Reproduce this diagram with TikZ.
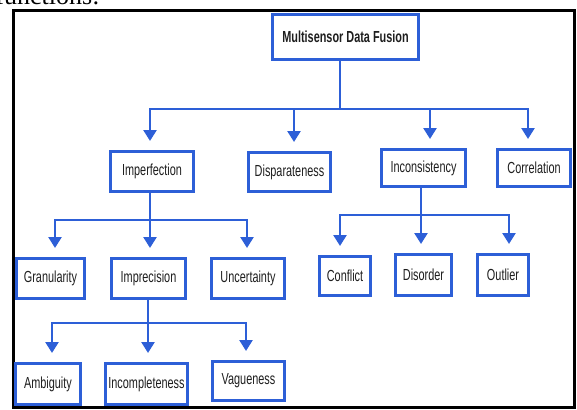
\documentclass[tikz,border=0pt]{standalone}
\usepackage{fontspec}
\setmainfont{Liberation Serif}
\newfontfamily\boxfont[FakeStretch=0.68]{Liberation Sans}
\usetikzlibrary{arrows.meta}
\definecolor{fusionblue}{RGB}{45,95,215}
\definecolor{labelgray}{RGB}{30,30,30}
\begin{document}
\begin{tikzpicture}[x=1pt,y=-1pt,
    box/.style={draw=fusionblue,line width=3pt,fill=white,text=labelgray,
      font=\boxfont\fontsize{16}{16}\selectfont,inner sep=0pt},
    link/.style={draw=fusionblue,line width=2.5pt,
      -{Triangle[width=13pt,length=11pt]},shorten >=9pt}]
  \useasboundingbox (0,0) rectangle (577,409);
  \begin{scope}
    \clip (0,0) rectangle (577,409);
    \node[anchor=base east,font=\fontsize{26}{26}\selectfont] (Caption) at (103,5) {functions:};
  \end{scope}
  \draw[line width=3pt] (13,11) rectangle (574.5,407);

  \node[box,minimum width=146pt,minimum height=45pt] (Fusion) at (345.5,37) {\textbf{Multisensor Data Fusion}};
  \node[box,minimum width=83pt,minimum height=40pt] (Imperfection) at (152,171.5) {Imperfection};
  \node[box,minimum width=82pt,minimum height=39pt] (Disparateness) at (289.5,172) {Disparateness};
  \node[box,minimum width=84pt,minimum height=37pt] (Inconsistency) at (423.5,168) {Inconsistency};
  \node[box,minimum width=73pt,minimum height=37pt] (Correlation) at (534,168) {Correlation};
  \node[box,minimum width=68pt,minimum height=40pt] (Granularity) at (50.5,278.5) {Granularity};
  \node[box,minimum width=74pt,minimum height=40pt] (Imprecision) at (148.5,278.5) {Imprecision};
  \node[box,minimum width=73pt,minimum height=40pt] (Uncertainty) at (248,278.5) {Uncertainty};
  \node[box,minimum width=51pt,minimum height=39pt] (Conflict) at (345,276) {Conflict};
  \node[box,minimum width=56pt,minimum height=41pt] (Disorder) at (423.5,275) {Disorder};
  \node[box,minimum width=51pt,minimum height=41pt] (Outlier) at (503,275) {Outlier};
  \node[box,minimum width=65pt,minimum height=41pt] (Ambiguity) at (48,384) {Ambiguity};
  \node[box,minimum width=82pt,minimum height=41pt] (Incompleteness) at (146.5,384) {Incompleteness};
  \node[box,minimum width=72pt,minimum height=39pt] (Vagueness) at (248.5,381) {Vagueness};

  \foreach \kid/\dx in {Imperfection/-2,Disparateness/4.5,Inconsistency/6.5,Correlation/-6}
    \draw[link] ([xshift=-5.5pt]Fusion.south) -- ++(0,48) -| ([xshift=\dx pt]\kid.north);
  \foreach \kid/\dx in {Granularity/4.5,Imprecision/1.5,Uncertainty/-1}
    \draw[link] ([xshift=-2pt]Imperfection.south) -- ++(0,27) -| ([xshift=\dx pt]\kid.north);
  \foreach \kid/\dx in {Conflict/-5,Disorder/-2.5,Outlier/6}
    \draw[link] ([xshift=-2.5pt]Inconsistency.south) -- ++(0,27) -| ([xshift=\dx pt]\kid.north);
  \foreach \kid/\dx in {Ambiguity/4,Incompleteness/1.5,Vagueness/-2.5}
    \draw[link] ([xshift=-0.5pt]Imprecision.south) -- ++(0,23) -| ([xshift=\dx pt]\kid.north);
\end{tikzpicture}
\end{document}
